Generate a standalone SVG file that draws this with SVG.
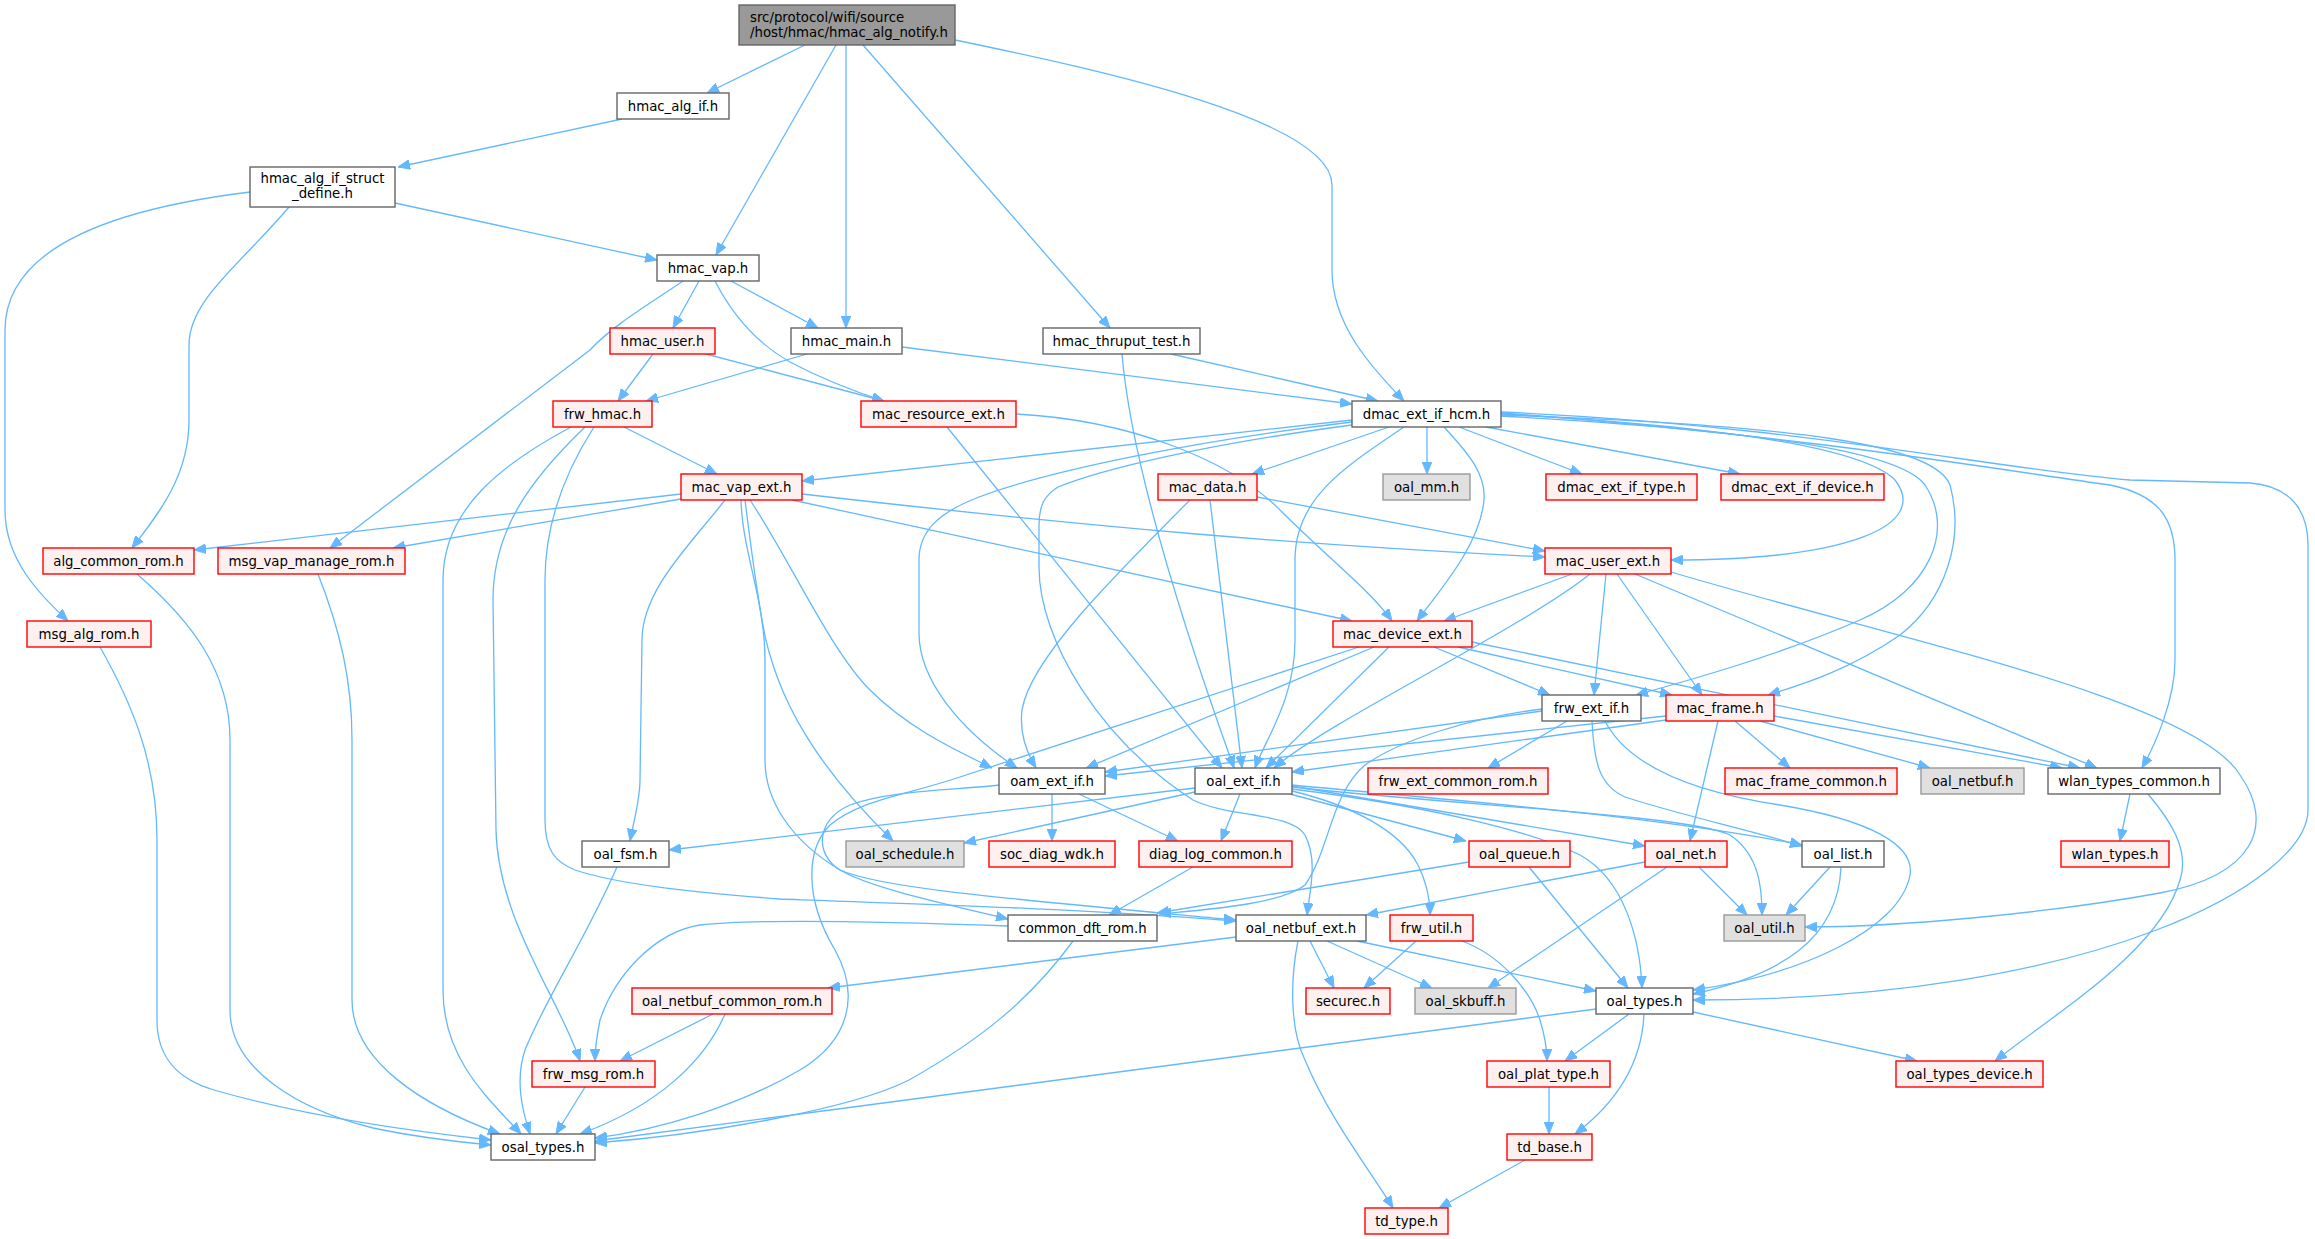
<svg xmlns="http://www.w3.org/2000/svg" width="2315" height="1239" viewBox="0 0 2315 1239">
<defs>
<marker id="ah" markerUnits="userSpaceOnUse" markerWidth="12" markerHeight="10" viewBox="0 0 11 9" refX="11" refY="4.5" orient="auto">
<path d="M0,0 L11,4.5 L0,9 z" fill="#63b8ff" stroke="#63b8ff" stroke-width="0.8"/>
</marker>
<style>
.e{fill:none;stroke:#63b8ff;stroke-width:1.3;marker-end:url(#ah)}
rect{stroke-width:1.4}
.w{fill:#ffffff;stroke:#666666}
.r{fill:#fff0f0;stroke:#ff0000}
.g{fill:#e0e0e0;stroke:#999999}
.root{fill:#999999;stroke:#666666}
text{font-family:"DejaVu Sans","Liberation Sans",sans-serif;font-size:13.3px;fill:#000000;text-anchor:middle}
text.tl{text-anchor:start}
</style>
</defs>
<rect x="0" y="0" width="2315" height="1239" fill="#ffffff"/>
<g id="edges">
<path class="e" d="M805,45 L707,93"/>
<path class="e" d="M836,45 L716,255"/>
<path class="e" d="M846,45 L846,328"/>
<path class="e" d="M863,45 L1110,328"/>
<path class="e" d="M955,40 C1100,70 1332,120 1332,185 L1332,270 C1332,325 1372,368 1404,401"/>
<path class="e" d="M622,119 L398,167"/>
<path class="e" d="M395,203 L657,260"/>
<path class="e" d="M289,207 C240,265 189,300 189,345 L189,420 C189,475 160,512 132,548"/>
<path class="e" d="M250,192 C120,208 5,245 5,330 L5,510 C5,560 40,595 68,621"/>
<path class="e" d="M699,281 L673,328"/>
<path class="e" d="M731,281 L818,328"/>
<path class="e" d="M683,281 C645,307 612,326 590,350 L330,548"/>
<path class="e" d="M715,281 C735,320 760,345 790,362 C820,378 850,390 884,401"/>
<path class="e" d="M706,354 L884,401"/>
<path class="e" d="M653,354 L618,401"/>
<path class="e" d="M807,354 L646,401"/>
<path class="e" d="M902,347 L1352,404"/>
<path class="e" d="M1171,354 L1378,401"/>
<path class="e" d="M1122,354 C1130,450 1170,590 1234,768"/>
<path class="e" d="M624,427 L717,474"/>
<path class="e" d="M571,427 C500,465 443,510 443,580 L443,990 C443,1060 490,1100 521,1134"/>
<path class="e" d="M585,427 C530,480 493,530 493,600 L496,830 C498,920 560,1000 580,1061"/>
<path class="e" d="M594,427 C560,480 545,530 545,580 L545,820 C545,850 555,862 575,870 C620,885 700,893 780,899 C950,905 1100,910 1236,921"/>
<path class="e" d="M681,494 L194,550"/>
<path class="e" d="M681,499 L393,548"/>
<path class="e" d="M802,494 C1100,528 1300,545 1545,557"/>
<path class="e" d="M792,500 L1352,621"/>
<path class="e" d="M750,500 C790,560 830,650 870,690 C910,730 960,752 992,768"/>
<path class="e" d="M725,500 C690,545 642,590 642,640 L640,780 C640,800 634,820 630,841"/>
<path class="e" d="M745,500 C750,540 755,580 762,620 C775,700 820,770 893,841"/>
<path class="e" d="M741,500 C742,550 765,600 765,660 L765,760 C765,800 790,840 840,870 C880,888 1000,898 1236,920"/>
<path class="e" d="M1352,420 L802,481"/>
<path class="e" d="M1352,422 C1200,440 1050,470 979,497 C940,512 919,530 919,560 L919,633 C919,680 960,730 1017,768"/>
<path class="e" d="M1352,425 C1200,445 1100,470 1058,487 C1045,495 1039,505 1039,525 L1039,567 C1039,640 1100,740 1193,800 C1230,818 1290,812 1305,835 C1318,860 1310,890 1307,915"/>
<path class="e" d="M1389,427 L1252,474"/>
<path class="e" d="M1404,427 C1340,470 1295,500 1295,560 L1295,640 C1295,700 1265,740 1255,768"/>
<path class="e" d="M1427,427 L1427,474"/>
<path class="e" d="M1444,427 C1470,455 1486,475 1484,500 C1480,545 1440,590 1417,621"/>
<path class="e" d="M1459,427 L1582,474"/>
<path class="e" d="M1486,427 L1740,474"/>
<path class="e" d="M1501,414 C1700,425 1860,445 1895,480 C1930,525 1850,560 1671,560"/>
<path class="e" d="M1501,416 C1750,430 1900,450 1925,485 C1955,530 1930,590 1860,620 C1780,655 1690,680 1636,695"/>
<path class="e" d="M1501,415 C1800,425 1935,445 1950,485 C1965,540 1945,600 1900,635 C1850,670 1800,685 1768,695"/>
<path class="e" d="M1501,413 C1800,435 2000,470 2110,485 C2160,495 2175,520 2175,560 L2175,660 C2175,700 2155,745 2142,768"/>
<path class="e" d="M1501,412 C1800,425 2000,470 2130,480 L2250,483 C2290,486 2308,510 2308,545 L2308,810 C2308,880 2100,1000 1693,1000"/>
<path class="e" d="M1016,414 C1130,420 1230,460 1280,510 C1330,560 1370,590 1392,621"/>
<path class="e" d="M947,427 L1222,768"/>
<path class="e" d="M1190,500 C1110,580 1030,660 1022,710 C1019,735 1028,755 1036,768"/>
<path class="e" d="M1210,500 L1242,768"/>
<path class="e" d="M1257,497 L1545,551"/>
<path class="e" d="M1572,574 L1444,621"/>
<path class="e" d="M1590,574 C1520,630 1330,720 1274,768"/>
<path class="e" d="M1606,574 L1594,695"/>
<path class="e" d="M1617,574 L1702,695"/>
<path class="e" d="M1635,574 L2097,768"/>
<path class="e" d="M1671,572 C1900,640 2195,700 2240,775 C2275,825 2255,875 2160,893 C2050,913 1900,927 1805,927"/>
<path class="e" d="M1374,647 L1086,768"/>
<path class="e" d="M1389,647 L1266,768"/>
<path class="e" d="M1359,647 L960,777 C900,797 860,800 830,825 C805,850 805,900 835,950 C860,995 850,1040 800,1070 C740,1105 660,1130 595,1138"/>
<path class="e" d="M1434,647 L1550,695"/>
<path class="e" d="M1458,647 L1672,695"/>
<path class="e" d="M1472,642 L2080,768"/>
<path class="e" d="M1542,711 L1105,772"/>
<path class="e" d="M1567,721 L1488,768"/>
<path class="e" d="M1542,709 C1470,718 1400,740 1365,765 C1330,795 1330,850 1305,885 C1280,905 1200,910 1159,914"/>
<path class="e" d="M1592,721 C1594,760 1598,785 1625,797 C1680,815 1750,830 1802,846"/>
<path class="e" d="M1605,721 C1625,760 1680,790 1780,805 C1870,820 1915,845 1910,875 C1900,930 1800,975 1693,990"/>
<path class="e" d="M1666,716 L1105,776"/>
<path class="e" d="M1666,720 L1292,772"/>
<path class="e" d="M1735,721 L1790,768"/>
<path class="e" d="M1760,721 L1930,768"/>
<path class="e" d="M1774,716 L2062,768"/>
<path class="e" d="M1718,721 L1690,841"/>
<path class="e" d="M1052,794 L1052,841"/>
<path class="e" d="M1079,794 L1178,841"/>
<path class="e" d="M999,785 C960,790 890,790 850,805 C815,820 815,855 840,870 C870,888 950,905 1008,919"/>
<path class="e" d="M1195,788 L669,850"/>
<path class="e" d="M1195,792 L964,843"/>
<path class="e" d="M1240,794 L1221,841"/>
<path class="e" d="M1292,791 C1350,805 1400,830 1418,865 C1428,885 1430,900 1430,915"/>
<path class="e" d="M1290,794 L1466,841"/>
<path class="e" d="M1292,786 L1645,846"/>
<path class="e" d="M1292,785 C1450,800 1650,815 1802,845"/>
<path class="e" d="M1292,787 C1450,805 1690,815 1730,835 C1760,855 1762,890 1762,915"/>
<path class="e" d="M1292,789 C1420,805 1530,830 1580,855 C1625,880 1640,940 1642,988"/>
<path class="e" d="M1193,867 L1109,915"/>
<path class="e" d="M1469,862 L1157,913"/>
<path class="e" d="M1529,867 L1628,988"/>
<path class="e" d="M1645,862 L1366,915"/>
<path class="e" d="M1667,867 L1488,988"/>
<path class="e" d="M1699,867 L1747,915"/>
<path class="e" d="M1830,867 L1786,915"/>
<path class="e" d="M1841,867 C1838,940 1780,975 1693,994"/>
<path class="e" d="M2130,794 L2120,841"/>
<path class="e" d="M2148,794 C2170,820 2190,850 2180,880 C2160,950 2060,1010 1995,1061"/>
<path class="e" d="M1073,941 C1030,1000 980,1040 909,1080 C850,1110 700,1135 595,1143"/>
<path class="e" d="M1008,926 C900,922 760,918 700,925 C655,932 615,975 600,1020 C596,1040 595,1050 595,1061"/>
<path class="e" d="M1236,937 L828,988"/>
<path class="e" d="M1310,941 L1334,988"/>
<path class="e" d="M1327,941 L1432,988"/>
<path class="e" d="M1357,941 L1596,991"/>
<path class="e" d="M1298,941 C1290,980 1290,1030 1305,1060 C1330,1120 1370,1170 1393,1208"/>
<path class="e" d="M1416,941 L1364,988"/>
<path class="e" d="M1462,941 C1500,955 1530,990 1540,1020 C1546,1040 1547,1050 1547,1061"/>
<path class="e" d="M713,1014 L620,1061"/>
<path class="e" d="M725,1014 C705,1060 660,1105 580,1134"/>
<path class="e" d="M585,1087 L556,1134"/>
<path class="e" d="M617,867 C585,940 545,1000 525,1050 C515,1080 522,1110 530,1134"/>
<path class="e" d="M137,574 C190,620 230,670 230,740 L230,1010 C230,1070 300,1110 373,1128 C420,1138 460,1142 491,1145"/>
<path class="e" d="M100,647 C130,700 157,760 157,840 L157,1020 C157,1060 180,1080 214,1090 C300,1115 400,1130 491,1140"/>
<path class="e" d="M318,574 C340,630 352,680 352,740 L352,1000 C352,1060 420,1105 500,1134"/>
<path class="e" d="M1596,1009 L595,1141"/>
<path class="e" d="M1629,1014 L1565,1061"/>
<path class="e" d="M1644,1014 C1642,1060 1620,1100 1575,1134"/>
<path class="e" d="M1693,1012 L1917,1061"/>
<path class="e" d="M1549,1087 L1549,1134"/>
<path class="e" d="M1525,1160 L1439,1208"/>
</g>
<g id="nodes">
<g id="n0"><rect class="root" x="739" y="5" width="216" height="40"/><text class="tl" x="750" y="21.5">src/protocol/wifi/source</text><text class="tl" x="750" y="36.5">/host/hmac/hmac_alg_notify.h</text></g>
<g id="n1"><rect class="w" x="617" y="93" width="112" height="26"/><text x="673" y="110.5">hmac_alg_if.h</text></g>
<g id="n2"><rect class="w" x="250" y="167" width="145" height="40"/><text x="322.5" y="182.5">hmac_alg_if_struct</text><text x="322.5" y="197.5">_define.h</text></g>
<g id="n3"><rect class="w" x="657" y="255" width="102" height="26"/><text x="708" y="272.5">hmac_vap.h</text></g>
<g id="n4"><rect class="r" x="610" y="328" width="105" height="26"/><text x="662.5" y="345.5">hmac_user.h</text></g>
<g id="n5"><rect class="w" x="791" y="328" width="111" height="26"/><text x="846.5" y="345.5">hmac_main.h</text></g>
<g id="n6"><rect class="w" x="1043" y="328" width="157" height="26"/><text x="1121.5" y="345.5">hmac_thruput_test.h</text></g>
<g id="n7"><rect class="r" x="553" y="401" width="99" height="26"/><text x="602.5" y="418.5">frw_hmac.h</text></g>
<g id="n8"><rect class="r" x="861" y="401" width="155" height="26"/><text x="938.5" y="418.5">mac_resource_ext.h</text></g>
<g id="n9"><rect class="w" x="1352" y="401" width="149" height="26"/><text x="1426.5" y="418.5">dmac_ext_if_hcm.h</text></g>
<g id="n10"><rect class="r" x="681" y="474" width="121" height="26"/><text x="741.5" y="491.5">mac_vap_ext.h</text></g>
<g id="n11"><rect class="r" x="1158" y="474" width="99" height="26"/><text x="1207.5" y="491.5">mac_data.h</text></g>
<g id="n12"><rect class="g" x="1383" y="474" width="87" height="26"/><text x="1426.5" y="491.5">oal_mm.h</text></g>
<g id="n13"><rect class="r" x="1546" y="474" width="151" height="26"/><text x="1621.5" y="491.5">dmac_ext_if_type.h</text></g>
<g id="n14"><rect class="r" x="1721" y="474" width="163" height="26"/><text x="1802.5" y="491.5">dmac_ext_if_device.h</text></g>
<g id="n15"><rect class="r" x="43" y="548" width="151" height="26"/><text x="118.5" y="565.5">alg_common_rom.h</text></g>
<g id="n16"><rect class="r" x="218" y="548" width="187" height="26"/><text x="311.5" y="565.5">msg_vap_manage_rom.h</text></g>
<g id="n17"><rect class="r" x="1545" y="548" width="126" height="26"/><text x="1608" y="565.5">mac_user_ext.h</text></g>
<g id="n18"><rect class="r" x="27" y="621" width="124" height="26"/><text x="89" y="638.5">msg_alg_rom.h</text></g>
<g id="n19"><rect class="r" x="1333" y="621" width="139" height="26"/><text x="1402.5" y="638.5">mac_device_ext.h</text></g>
<g id="n20"><rect class="w" x="1542" y="695" width="99" height="26"/><text x="1591.5" y="712.5">frw_ext_if.h</text></g>
<g id="n21"><rect class="r" x="1666" y="695" width="108" height="26"/><text x="1720" y="712.5">mac_frame.h</text></g>
<g id="n22"><rect class="w" x="999" y="768" width="106" height="26"/><text x="1052" y="785.5">oam_ext_if.h</text></g>
<g id="n23"><rect class="w" x="1195" y="768" width="97" height="26"/><text x="1243.5" y="785.5">oal_ext_if.h</text></g>
<g id="n24"><rect class="r" x="1368" y="768" width="180" height="26"/><text x="1458" y="785.5">frw_ext_common_rom.h</text></g>
<g id="n25"><rect class="r" x="1725" y="768" width="172" height="26"/><text x="1811" y="785.5">mac_frame_common.h</text></g>
<g id="n26"><rect class="g" x="1921" y="768" width="103" height="26"/><text x="1972.5" y="785.5">oal_netbuf.h</text></g>
<g id="n27"><rect class="w" x="2048" y="768" width="172" height="26"/><text x="2134" y="785.5">wlan_types_common.h</text></g>
<g id="n28"><rect class="w" x="582" y="841" width="87" height="26"/><text x="625.5" y="858.5">oal_fsm.h</text></g>
<g id="n29"><rect class="g" x="846" y="841" width="118" height="26"/><text x="905" y="858.5">oal_schedule.h</text></g>
<g id="n30"><rect class="r" x="989" y="841" width="126" height="26"/><text x="1052" y="858.5">soc_diag_wdk.h</text></g>
<g id="n31"><rect class="r" x="1139" y="841" width="153" height="26"/><text x="1215.5" y="858.5">diag_log_common.h</text></g>
<g id="n32"><rect class="r" x="1469" y="841" width="101" height="26"/><text x="1519.5" y="858.5">oal_queue.h</text></g>
<g id="n33"><rect class="r" x="1645" y="841" width="82" height="26"/><text x="1686" y="858.5">oal_net.h</text></g>
<g id="n34"><rect class="w" x="1802" y="841" width="82" height="26"/><text x="1843" y="858.5">oal_list.h</text></g>
<g id="n35"><rect class="r" x="2061" y="841" width="108" height="26"/><text x="2115" y="858.5">wlan_types.h</text></g>
<g id="n36"><rect class="w" x="1008" y="915" width="149" height="26"/><text x="1082.5" y="932.5">common_dft_rom.h</text></g>
<g id="n37"><rect class="w" x="1236" y="915" width="130" height="26"/><text x="1301" y="932.5">oal_netbuf_ext.h</text></g>
<g id="n38"><rect class="r" x="1390" y="915" width="83" height="26"/><text x="1431.5" y="932.5">frw_util.h</text></g>
<g id="n39"><rect class="g" x="1724" y="915" width="81" height="26"/><text x="1764.5" y="932.5">oal_util.h</text></g>
<g id="n40"><rect class="r" x="632" y="988" width="200" height="26"/><text x="732" y="1005.5">oal_netbuf_common_rom.h</text></g>
<g id="n41"><rect class="r" x="1306" y="988" width="84" height="26"/><text x="1348" y="1005.5">securec.h</text></g>
<g id="n42"><rect class="g" x="1415" y="988" width="101" height="26"/><text x="1465.5" y="1005.5">oal_skbuff.h</text></g>
<g id="n43"><rect class="w" x="1596" y="988" width="97" height="26"/><text x="1644.5" y="1005.5">oal_types.h</text></g>
<g id="n44"><rect class="r" x="532" y="1061" width="123" height="26"/><text x="593.5" y="1078.5">frw_msg_rom.h</text></g>
<g id="n45"><rect class="r" x="1487" y="1061" width="123" height="26"/><text x="1548.5" y="1078.5">oal_plat_type.h</text></g>
<g id="n46"><rect class="r" x="1896" y="1061" width="147" height="26"/><text x="1969.5" y="1078.5">oal_types_device.h</text></g>
<g id="n47"><rect class="w" x="491" y="1134" width="104" height="26"/><text x="543" y="1151.5">osal_types.h</text></g>
<g id="n48"><rect class="r" x="1507" y="1134" width="85" height="26"/><text x="1549.5" y="1151.5">td_base.h</text></g>
<g id="n49"><rect class="r" x="1365" y="1208" width="83" height="26"/><text x="1406.5" y="1225.5">td_type.h</text></g>
</g>
</svg>
